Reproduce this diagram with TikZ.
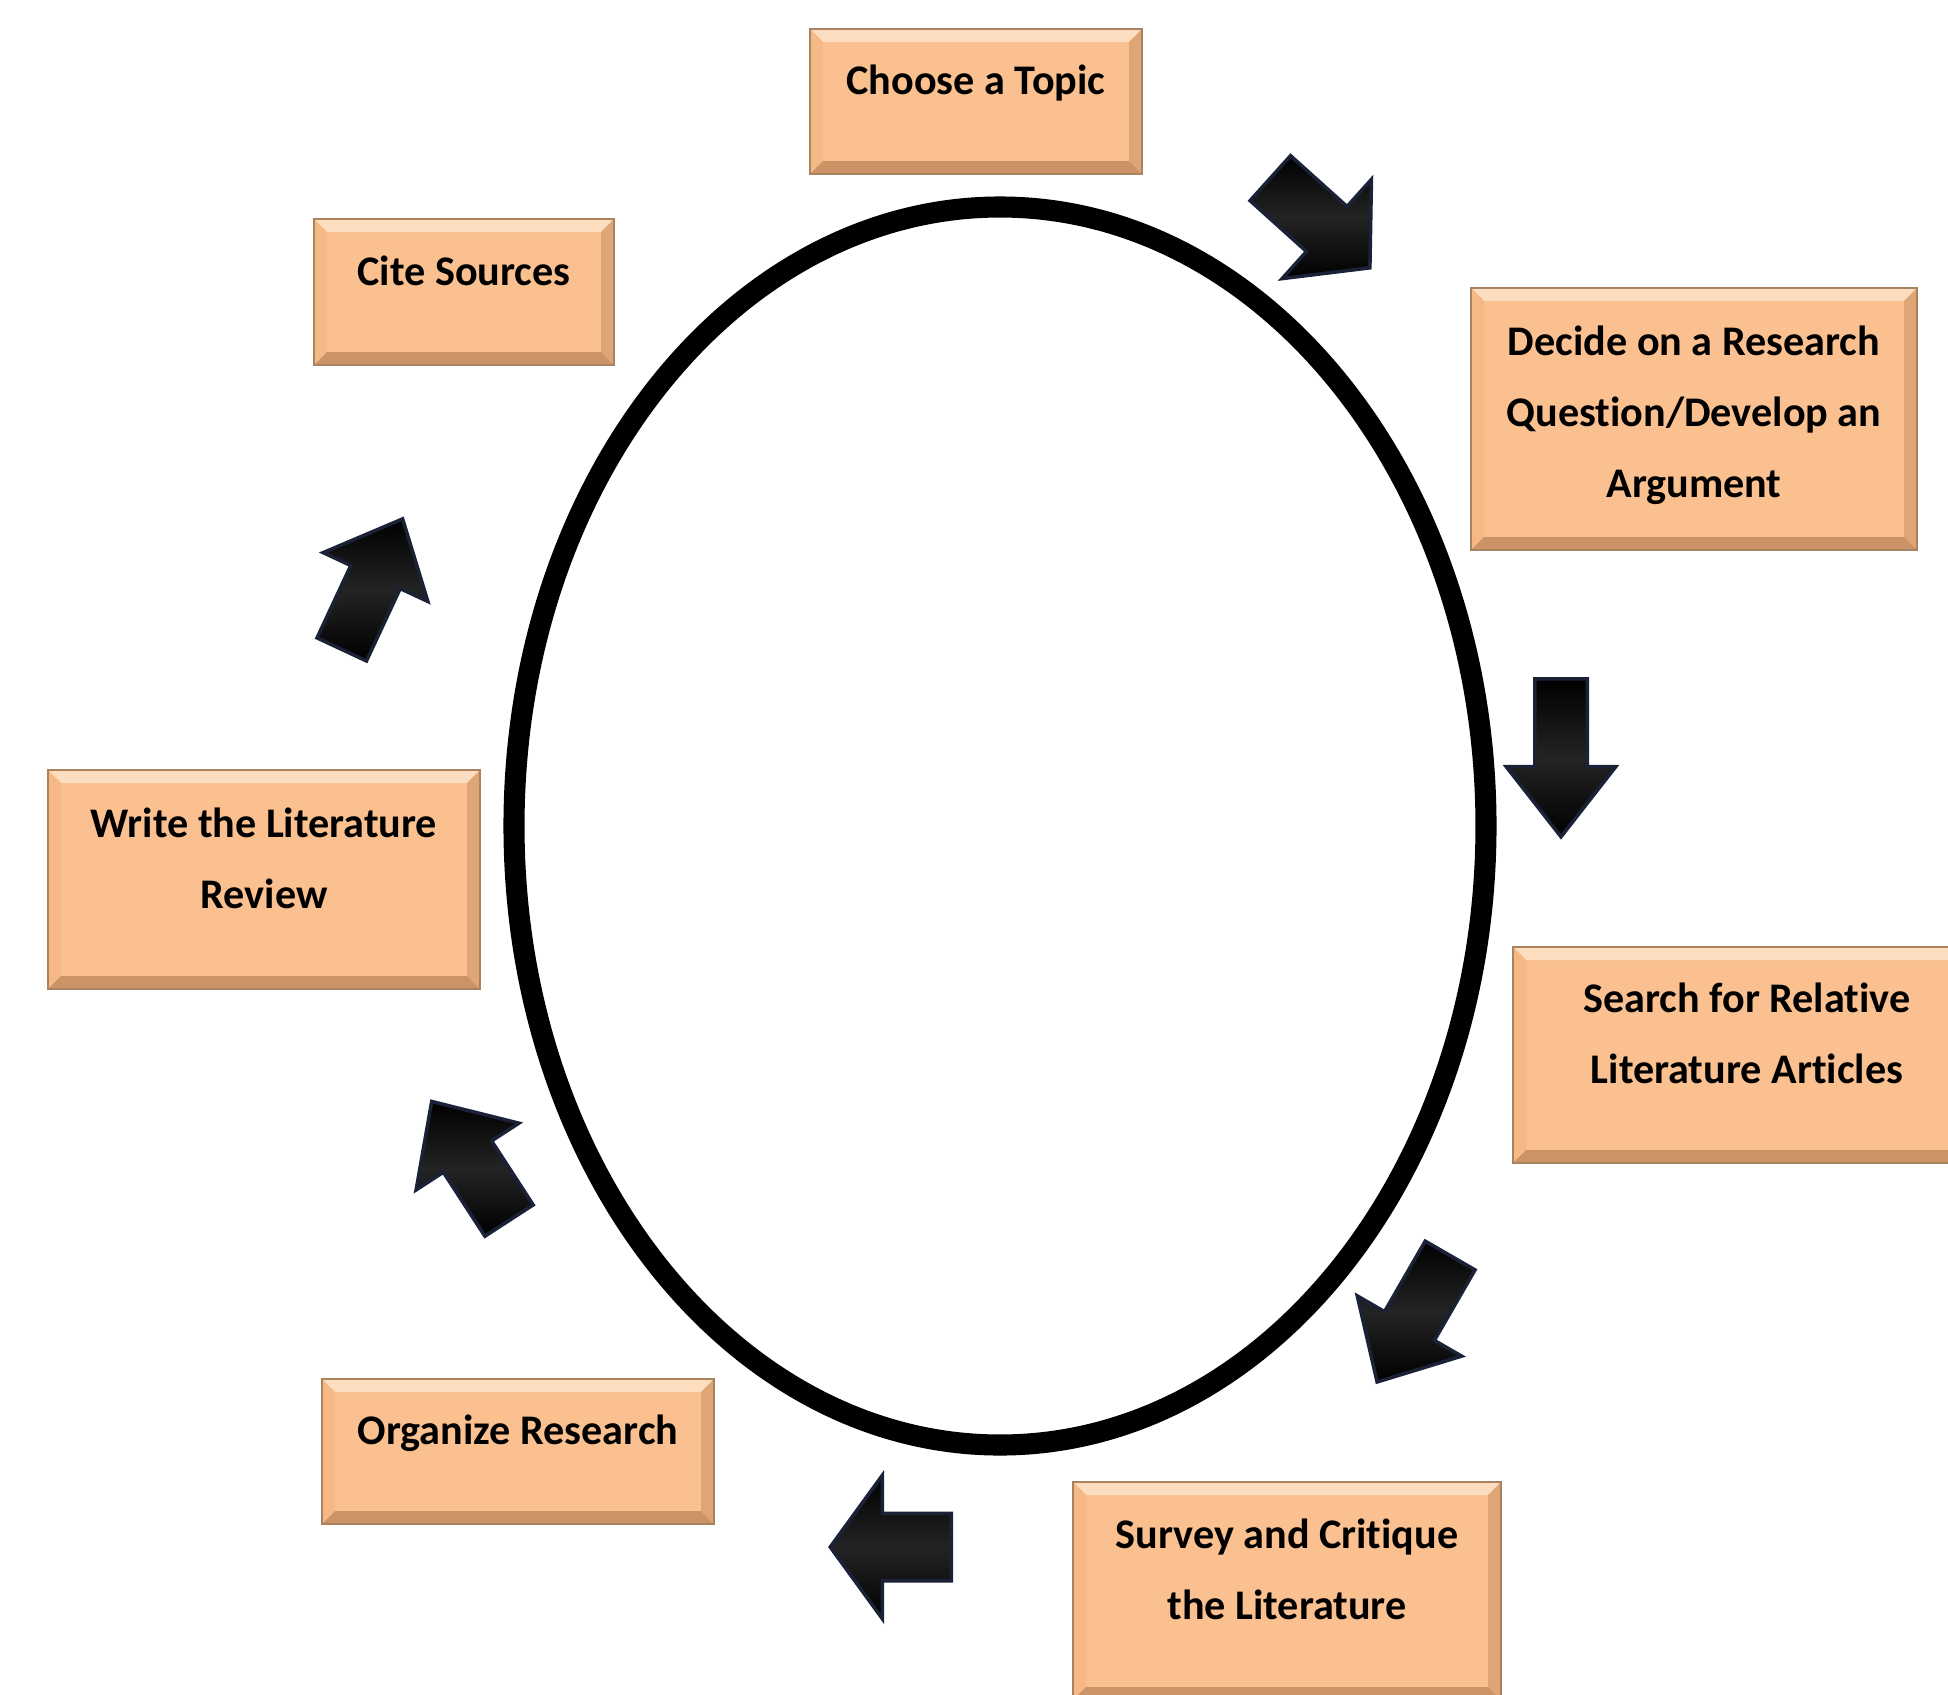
\documentclass[tikz,border=0pt]{standalone}
\usepackage{fontspec}
\setmainfont{Carlito}[Ligatures=NoCommon]
\usetikzlibrary{shapes.arrows}

\definecolor{peach}{HTML}{FAC090}
\definecolor{peachlight}{HTML}{FDDDBF}
\definecolor{peachside}{HTML}{F6B885}
\definecolor{peachdark}{HTML}{CC9366}
\definecolor{peachedge}{HTML}{A9835F}
\definecolor{arrowedge}{HTML}{1B2238}

\newcommand\bevelw{0.13cm}

\tikzset{
    stage/.style={draw=peachedge, line width=0.8pt, fill=peach, inner sep=0pt,
        align=center, font=\fontsize{12}{20.2}\selectfont\bfseries,
        text height=8.4pt, text depth=12.2pt,
        path picture={
            \coordinate (pnw) at (path picture bounding box.north west);
            \coordinate (pne) at (path picture bounding box.north east);
            \coordinate (psw) at (path picture bounding box.south west);
            \coordinate (pse) at (path picture bounding box.south east);
            \fill[peachlight] (pnw) -- (pne) -- ([shift={(-\bevelw,-\bevelw)}]pne) -- ([shift={(\bevelw,-\bevelw)}]pnw) -- cycle;
            \fill[peachside] (pnw) -- ([shift={(\bevelw,-\bevelw)}]pnw) -- ([shift={(\bevelw,\bevelw)}]psw) -- (psw) -- cycle;
            \fill[peachdark!60!peach] (pne) -- ([shift={(-\bevelw,-\bevelw)}]pne) -- ([shift={(-\bevelw,\bevelw)}]pse) -- (pse) -- cycle;
            \fill[peachdark] (psw) -- (pse) -- ([shift={(-\bevelw,\bevelw)}]pse) -- ([shift={(\bevelw,\bevelw)}]psw) -- cycle;
        }},
    twolines/.style={text height=28.6pt},
    threelines/.style={text height=48.8pt, text depth=4.2pt},
    blockarrow/.style={single arrow, draw=arrowedge, line width=1pt,
        top color=black, bottom color=black, middle color=black!86, anchor=tail}
}

\begin{document}
\begin{tikzpicture}
    \useasboundingbox (0,0) rectangle (19.48,-16.94);
    \clip (0,0) rectangle (19.48,-16.94);

    % the cycle
    \draw[line width=6pt] (10.00,-8.26) ellipse [x radius=4.86, y radius=6.19];

    % stages
    \node[stage, minimum width=3.32cm, minimum height=1.45cm] (topic) at (9.76,-1.015) {Choose a Topic};
    \node[stage, threelines, minimum width=4.46cm, minimum height=2.62cm] (question) at (16.94,-4.19) {Decide on a Research\\Question/Develop an\\Argument};
    \node[stage, twolines, minimum width=4.68cm, minimum height=2.16cm] (search) at (17.47,-10.55) {Search for Relative\\Literature Articles};
    \node[stage, twolines, minimum width=4.28cm, minimum height=2.18cm] (survey) at (12.87,-15.91) {Survey and Critique\\the Literature};
    \node[stage, minimum width=3.92cm, minimum height=1.45cm] (organize) at (5.18,-14.515) {Organize Research};
    \node[stage, twolines, minimum width=4.32cm, minimum height=2.19cm] (write) at (2.64,-8.795) {Write the Literature\\Review};
    \node[stage, minimum width=3.00cm, minimum height=1.46cm] (cite) at (4.64,-2.92) {Cite Sources};

    % block arrows round the cycle: tail, angle, length, shaft, head, tip angle
    \foreach \x/\y/\a/\l/\s/\h/\t [count=\i, evaluate={\hs=0.5*\s; \he=0.5*(\h-\s);}] in
        {12.69/-1.77/-42/1.34/0.57/1.30/98, 15.61/-6.77/-90/1.58/0.49/1.06/76,
         14.51/-12.54/-120/1.46/0.54/1.17/86, 9.53/-15.47/180/1.21/0.64/1.40/108,
         5.10/-12.22/123/1.42/0.54/1.19/86, 3.41/-6.51/65/1.44/0.51/1.12/84}
    {
        \node[blockarrow, rotate=\a, minimum height=\l cm, inner sep=\hs cm,
            single arrow head extend=\he cm, single arrow tip angle=\t] (arrow\i) at (\x,\y) {};
    }
\end{tikzpicture}
\end{document}
